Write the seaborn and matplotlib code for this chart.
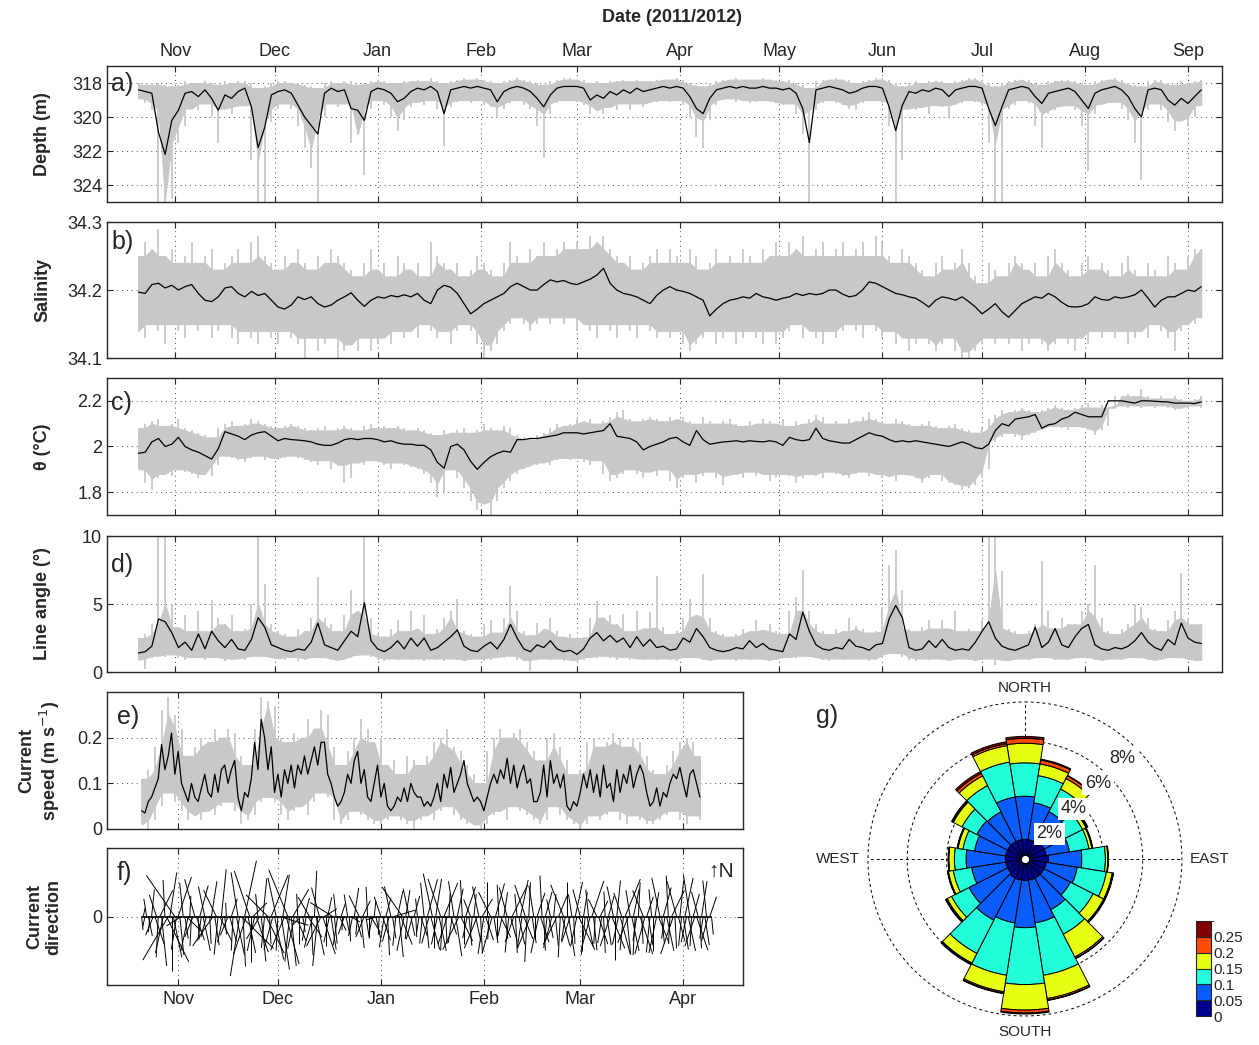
"""Mooring time series (depth, salinity, temperature, line angle, currents) with current rose."""

import numpy as np
import pandas as pd
import matplotlib
matplotlib.use('Agg')
import matplotlib.pyplot as plt
import matplotlib.dates as mdates
from matplotlib.colors import ListedColormap, BoundaryNorm
from matplotlib.cm import ScalarMappable
from matplotlib.collections import LineCollection
import seaborn as sns

START = pd.Timestamp('2011-10-21')

# ---- a) depth, 2-day samples ----
depth_mean = [
    318.4, 318.5, 318.6, 320.9, 322.2, 320.2, 319.6, 318.6, 318.5, 318.8,
    318.4, 318.9, 319.6, 318.7, 318.9, 318.5, 318.3, 319.4, 321.8, 320.6,
    318.7, 318.5, 318.4, 318.6, 319.3, 320.0, 320.5, 321.0, 318.6, 318.3,
    318.5, 318.4, 319.5, 319.6, 320.2, 318.5, 318.3, 318.4, 318.6, 319.1,
    318.9, 318.5, 318.3, 318.4, 318.2, 318.5, 319.8, 318.4, 318.3, 318.2,
    318.3, 318.2, 318.3, 318.4, 319.1, 318.5, 318.3, 318.2, 318.3, 318.5,
    318.9, 319.4, 318.7, 318.3, 318.2, 318.2, 318.2, 318.3, 319.0, 318.7,
    318.9, 318.5, 318.7, 318.4, 318.6, 318.3, 318.5, 318.4, 318.3, 318.2,
    318.3, 318.2, 318.3, 318.8, 319.5, 319.8, 318.9, 318.4, 318.3, 318.2,
    318.3, 318.2, 318.3, 318.3, 318.2, 318.3, 318.3, 318.4, 318.3, 318.6,
    319.5, 321.5, 318.4, 318.3, 318.2, 318.3, 318.4, 318.6, 318.5, 318.3,
    318.2, 318.2, 318.3, 319.4, 320.8, 319.3, 318.5, 318.6, 318.4, 318.5,
    318.3, 318.4, 318.8, 318.4, 318.3, 318.2, 318.2, 318.3, 319.5, 320.5,
    319.4, 318.4, 318.3, 318.2, 318.3, 318.8, 319.2, 318.6, 318.5, 318.4,
    318.3, 318.5, 319.0, 319.5, 318.6, 318.4, 318.3, 318.2, 318.4, 318.8,
    319.5, 320.0, 318.4, 318.3, 318.4, 319.0, 319.3, 318.9, 319.2, 318.8,
    318.4]
depth_shallow = [
    318.0, 318.1, 318.0, 318.0, 318.1, 318.2, 318.1, 317.9, 318.0, 318.0,
    317.9, 318.0, 318.1, 317.9, 318.0, 317.9, 317.9, 318.0, 318.3, 318.2,
    318.0, 317.9, 317.9, 318.0, 318.0, 318.1, 318.2, 318.3, 318.0, 317.9,
    318.0, 317.9, 317.9, 318.1, 318.0, 317.9, 317.8, 317.9, 318.0, 318.0,
    317.9, 317.9, 317.8, 317.9, 317.7, 317.9, 318.0, 317.9, 317.8, 317.7,
    317.8, 317.7, 317.8, 317.9, 318.0, 317.9, 317.8, 317.7, 317.8, 317.9,
    318.0, 318.1, 317.9, 317.8, 317.7, 317.7, 317.8, 317.8, 318.0, 317.9,
    318.0, 317.9, 317.9, 317.8, 317.9, 317.8, 317.9, 317.9, 317.8, 317.8,
    317.8, 317.7, 317.8, 318.0, 318.1, 318.2, 318.0, 317.9, 317.8, 317.8,
    317.7, 317.8, 317.8, 317.8, 317.7, 317.8, 317.8, 317.9, 317.8, 318.0,
    318.1, 318.3, 317.9, 317.8, 317.8, 317.7, 317.8, 317.8, 318.0, 317.9,
    317.8, 317.7, 317.7, 317.8, 318.0, 318.2, 318.0, 317.9, 318.0, 317.9,
    317.9, 317.9, 318.0, 317.9, 317.8, 317.7, 317.7, 317.8, 318.0, 318.2,
    318.0, 317.9, 317.8, 317.8, 317.8, 318.0, 318.1, 317.9, 317.9, 317.8,
    317.8, 317.9, 318.0, 318.1, 317.9, 317.8, 317.8, 317.7, 317.8, 318.0,
    318.1, 318.2, 317.9, 317.8, 317.8, 318.0, 318.1, 317.9, 318.0, 317.9,
    317.8]
depth_deep = [
    318.9, 319.2, 319.6, 325.0, 325.0, 324.8, 321.5, 320.5, 319.5, 319.6,
    319.2, 320.0, 321.5, 319.5, 319.8, 319.4, 319.3, 322.5, 325.0, 325.0,
    320.3, 319.5, 319.2, 319.5, 320.5, 321.8, 323.0, 325.0, 320.0, 319.2,
    319.4, 319.2, 321.5, 321.0, 323.4, 319.5, 319.0, 319.3, 320.0, 320.8,
    320.2, 319.4, 319.1, 319.3, 319.0, 319.5, 321.7, 319.4, 319.1, 319.0,
    319.2, 319.0, 319.3, 319.4, 320.0, 319.5, 319.2, 319.0, 319.3, 319.5,
    320.5, 322.4, 319.8, 319.2, 319.0, 319.0, 319.1, 319.3, 319.8, 319.6,
    319.8, 319.4, 319.6, 319.2, 319.6, 319.2, 319.4, 319.2, 319.1, 319.0,
    319.1, 319.0, 319.3, 320.0, 321.2, 321.8, 320.2, 319.3, 319.0, 318.9,
    319.1, 319.0, 319.2, 319.1, 319.0, 319.1, 319.2, 319.3, 319.2, 319.8,
    321.0, 325.0, 319.6, 319.2, 319.0, 319.2, 319.3, 319.5, 319.6, 319.2,
    319.0, 319.0, 319.2, 320.5, 325.0, 322.5, 319.5, 319.6, 319.4, 319.8,
    319.3, 319.4, 320.0, 319.3, 319.2, 319.0, 319.1, 319.3, 321.5, 325.0,
    325.0, 319.5, 319.3, 319.0, 319.2, 320.5, 321.8, 319.8, 319.6, 319.4,
    319.3, 319.6, 320.5, 323.2, 319.8, 319.3, 319.2, 319.1, 319.5, 320.2,
    321.5, 323.7, 319.6, 319.2, 319.6, 320.3, 320.8, 320.2, 320.5, 320.0,
    319.3]

# ---- b) salinity, 2-day samples ----
sal_mean = [
    34.197, 34.195, 34.208, 34.210, 34.203, 34.207, 34.200, 34.205, 34.208, 34.195,
    34.185, 34.183, 34.190, 34.203, 34.205, 34.195, 34.190, 34.198, 34.192, 34.195,
    34.185, 34.175, 34.172, 34.178, 34.190, 34.186, 34.190, 34.180, 34.175, 34.178,
    34.185, 34.190, 34.196, 34.185, 34.176, 34.185, 34.190, 34.188, 34.192, 34.190,
    34.193, 34.190, 34.195, 34.185, 34.180, 34.200, 34.207, 34.204, 34.195, 34.180,
    34.165, 34.172, 34.180, 34.185, 34.190, 34.195, 34.205, 34.210, 34.205, 34.200,
    34.200, 34.208, 34.215, 34.212, 34.214, 34.210, 34.208, 34.212, 34.216, 34.222,
    34.232, 34.210, 34.200, 34.195, 34.193, 34.190, 34.185, 34.180, 34.192, 34.200,
    34.205, 34.200, 34.198, 34.195, 34.190, 34.185, 34.162, 34.172, 34.180, 34.185,
    34.187, 34.190, 34.188, 34.195, 34.190, 34.188, 34.185, 34.188, 34.190, 34.195,
    34.192, 34.195, 34.193, 34.195, 34.200, 34.200, 34.194, 34.190, 34.192, 34.200,
    34.212, 34.210, 34.205, 34.200, 34.195, 34.193, 34.190, 34.188, 34.182, 34.175,
    34.185, 34.190, 34.188, 34.185, 34.190, 34.183, 34.175, 34.165, 34.172, 34.180,
    34.168, 34.160, 34.170, 34.180, 34.185, 34.190, 34.188, 34.195, 34.190, 34.182,
    34.176, 34.175, 34.176, 34.180, 34.190, 34.186, 34.185, 34.190, 34.188, 34.190,
    34.193, 34.200, 34.188, 34.175, 34.185, 34.190, 34.190, 34.195, 34.200, 34.198,
    34.205]
sal_high = [
    34.25, 34.27, 34.26, 34.29, 34.25, 34.26, 34.24, 34.25, 34.27, 34.24,
    34.25, 34.26, 34.23, 34.24, 34.25, 34.26, 34.24, 34.27, 34.28, 34.25,
    34.24, 34.23, 34.25, 34.24, 34.26, 34.24, 34.23, 34.25, 34.24, 34.26,
    34.25, 34.24, 34.23, 34.22, 34.24, 34.26, 34.23, 34.24, 34.22, 34.25,
    34.24, 34.23, 34.24, 34.22, 34.27, 34.25, 34.24, 34.23, 34.24, 34.22,
    34.23, 34.25, 34.24, 34.23, 34.22, 34.24, 34.27, 34.25, 34.24, 34.26,
    34.25, 34.27, 34.25, 34.26, 34.27, 34.26, 34.27, 34.26, 34.28, 34.27,
    34.28, 34.26, 34.25, 34.24, 34.25, 34.23, 34.24, 34.25, 34.26, 34.24,
    34.26, 34.25, 34.24, 34.26, 34.25, 34.23, 34.24, 34.26, 34.24, 34.25,
    34.24, 34.26, 34.25, 34.24, 34.26, 34.25, 34.27, 34.25, 34.27, 34.26,
    34.28, 34.25, 34.26, 34.27, 34.25, 34.26, 34.27, 34.25, 34.26, 34.27,
    34.25, 34.28, 34.27, 34.25, 34.24, 34.26, 34.25, 34.24, 34.23, 34.22,
    34.24, 34.25, 34.23, 34.24, 34.26, 34.24, 34.22, 34.21, 34.24, 34.23,
    34.22, 34.24, 34.25, 34.24, 34.23, 34.24, 34.22, 34.25, 34.26, 34.24,
    34.23, 34.22, 34.24, 34.25, 34.23, 34.24, 34.23, 34.22, 34.24, 34.25,
    34.23, 34.22, 34.24, 34.23, 34.22, 34.25, 34.24, 34.23, 34.25, 34.26,
    34.26]
sal_low = [
    34.14, 34.13, 34.15, 34.14, 34.12, 34.15, 34.14, 34.13, 34.15, 34.14,
    34.15, 34.13, 34.14, 34.15, 34.13, 34.12, 34.14, 34.13, 34.12, 34.14,
    34.13, 34.12, 34.14, 34.13, 34.12, 34.10, 34.13, 34.11, 34.12, 34.13,
    34.10, 34.11, 34.12, 34.11, 34.13, 34.11, 34.12, 34.13, 34.12, 34.14,
    34.13, 34.14, 34.13, 34.15, 34.14, 34.13, 34.14, 34.12, 34.14, 34.15,
    34.14, 34.12, 34.10, 34.11, 34.12, 34.14, 34.15, 34.16, 34.15, 34.14,
    34.15, 34.16, 34.15, 34.16, 34.15, 34.16, 34.14, 34.15, 34.14, 34.13,
    34.15, 34.14, 34.13, 34.15, 34.14, 34.13, 34.15, 34.14, 34.13, 34.14,
    34.13, 34.14, 34.12, 34.11, 34.12, 34.13, 34.14, 34.12, 34.13, 34.14,
    34.12, 34.13, 34.14, 34.13, 34.12, 34.14, 34.12, 34.13, 34.14, 34.15,
    34.13, 34.14, 34.13, 34.12, 34.14, 34.13, 34.14, 34.15, 34.14, 34.13,
    34.15, 34.14, 34.13, 34.14, 34.12, 34.13, 34.11, 34.12, 34.13, 34.12,
    34.11, 34.12, 34.13, 34.11, 34.10, 34.10, 34.11, 34.12, 34.13, 34.12,
    34.13, 34.12, 34.13, 34.11, 34.12, 34.13, 34.12, 34.11, 34.12, 34.13,
    34.12, 34.11, 34.13, 34.12, 34.14, 34.13, 34.14, 34.13, 34.14, 34.12,
    34.13, 34.14, 34.13, 34.15, 34.14, 34.13, 34.11, 34.14, 34.15, 34.15,
    34.16]

# ---- c) potential temperature, 2-day samples ----
temp_mean = [
    1.970, 1.975, 2.020, 2.035, 2.000, 2.010, 2.040, 2.000, 1.985, 1.975,
    1.960, 1.945, 1.990, 2.065, 2.055, 2.045, 2.030, 2.050, 2.060, 2.065,
    2.045, 2.025, 2.035, 2.030, 2.028, 2.025, 2.020, 2.010, 2.005, 2.005,
    2.015, 2.030, 2.035, 2.030, 2.035, 2.035, 2.030, 2.020, 2.025, 2.015,
    2.010, 2.010, 2.005, 2.005, 1.985, 1.930, 1.905, 2.000, 2.010, 1.985,
    1.935, 1.900, 1.930, 1.955, 1.970, 1.980, 1.975, 2.030, 2.030, 2.035,
    2.035, 2.040, 2.045, 2.050, 2.060, 2.060, 2.060, 2.055, 2.060, 2.065,
    2.070, 2.100, 2.045, 2.040, 2.035, 2.020, 1.985, 2.000, 2.010, 2.020,
    2.035, 2.040, 2.020, 2.005, 2.070, 2.030, 2.010, 2.015, 2.020, 2.022,
    2.025, 2.020, 2.025, 2.022, 2.020, 2.025, 2.020, 2.005, 2.040, 2.030,
    2.025, 2.030, 2.080, 2.035, 2.025, 2.020, 2.015, 2.015, 2.030, 2.045,
    2.060, 2.050, 2.045, 2.030, 2.020, 2.025, 2.020, 2.025, 2.020, 2.015,
    2.010, 2.005, 2.000, 2.010, 2.020, 2.010, 1.995, 1.990, 2.010, 2.070,
    2.100, 2.090, 2.120, 2.125, 2.130, 2.140, 2.080, 2.095, 2.100, 2.120,
    2.130, 2.150, 2.140, 2.130, 2.130, 2.130, 2.200, 2.200, 2.200, 2.195,
    2.190, 2.200, 2.200, 2.198, 2.196, 2.195, 2.190, 2.190, 2.190, 2.188,
    2.195]
temp_high = [
    2.08, 2.10, 2.11, 2.12, 2.09, 2.10, 2.12, 2.08, 2.07, 2.06,
    2.05, 2.04, 2.08, 2.10, 2.11, 2.09, 2.10, 2.12, 2.11, 2.10,
    2.09, 2.08, 2.09, 2.10, 2.09, 2.08, 2.07, 2.08, 2.09, 2.07,
    2.08, 2.09, 2.08, 2.07, 2.09, 2.10, 2.08, 2.09, 2.08, 2.09,
    2.08, 2.07, 2.08, 2.07, 2.06, 2.05, 2.07, 2.06, 2.07, 2.08,
    2.06, 2.07, 2.10, 2.08, 2.07, 2.09, 2.08, 2.05, 2.04, 2.03,
    2.05, 2.06, 2.08, 2.10, 2.09, 2.10, 2.12, 2.11, 2.12, 2.10,
    2.11, 2.13, 2.15, 2.16, 2.12, 2.11, 2.12, 2.13, 2.12, 2.11,
    2.13, 2.12, 2.13, 2.11, 2.10, 2.13, 2.11, 2.10, 2.11, 2.12,
    2.10, 2.09, 2.11, 2.10, 2.12, 2.11, 2.10, 2.12, 2.09, 2.11,
    2.10, 2.12, 2.14, 2.13, 2.10, 2.11, 2.10, 2.12, 2.11, 2.13,
    2.15, 2.12, 2.11, 2.10, 2.12, 2.11, 2.10, 2.09, 2.10, 2.11,
    2.09, 2.08, 2.09, 2.10, 2.08, 2.07, 2.06, 2.08, 2.12, 2.14,
    2.16, 2.15, 2.16, 2.17, 2.16, 2.15, 2.16, 2.17, 2.18, 2.17,
    2.16, 2.17, 2.18, 2.19, 2.17, 2.18, 2.17, 2.22, 2.22, 2.23,
    2.22, 2.25, 2.22, 2.21, 2.22, 2.21, 2.22, 2.21, 2.20, 2.21,
    2.22]
temp_low = [
    1.90, 1.84, 1.81, 1.86, 1.88, 1.87, 1.90, 1.89, 1.88, 1.86,
    1.88, 1.87, 1.92, 1.96, 1.95, 1.94, 1.93, 1.95, 1.96, 1.94,
    1.95, 1.94, 1.95, 1.96, 1.95, 1.94, 1.93, 1.92, 1.94, 1.90,
    1.92, 1.84, 1.86, 1.93, 1.92, 1.94, 1.93, 1.92, 1.90, 1.93,
    1.92, 1.91, 1.90, 1.88, 1.84, 1.78, 1.80, 1.90, 1.86, 1.82,
    1.76, 1.72, 1.75, 1.70, 1.76, 1.82, 1.85, 1.88, 1.90, 1.91,
    1.92, 1.93, 1.92, 1.94, 1.95, 1.94, 1.95, 1.93, 1.92, 1.94,
    1.88, 1.85, 1.86, 1.88, 1.90, 1.88, 1.86, 1.89, 1.87, 1.90,
    1.85, 1.82, 1.86, 1.88, 1.84, 1.87, 1.89, 1.86, 1.83, 1.87,
    1.88, 1.86, 1.89, 1.87, 1.88, 1.85, 1.86, 1.88, 1.87, 1.84,
    1.86, 1.88, 1.87, 1.86, 1.89, 1.88, 1.87, 1.86, 1.88, 1.89,
    1.87, 1.88, 1.86, 1.87, 1.85, 1.88, 1.87, 1.86, 1.84, 1.86,
    1.88, 1.85, 1.84, 1.83, 1.81, 1.82, 1.83, 1.86, 1.90, 2.02,
    2.04, 2.06, 2.04, 2.03, 2.05, 2.06, 2.07, 2.08, 2.09, 2.08,
    2.07, 2.09, 2.08, 2.07, 2.05, 2.07, 2.09, 2.17, 2.18, 2.17,
    2.18, 2.17, 2.18, 2.17, 2.18, 2.17, 2.16, 2.17, 2.17, 2.18,
    2.17]

# ---- d) line angle, 2-day samples ----
angle_mean = [
    1.4, 1.5, 1.9, 3.9, 3.7, 2.9, 1.8, 2.2, 1.6, 2.8,
    1.7, 3.0, 2.3, 1.8, 2.4, 1.7, 1.6, 2.4, 4.0, 3.3,
    2.0, 1.8, 1.6, 1.5, 1.7, 1.6, 2.2, 3.6, 2.0, 1.8,
    1.6, 2.3, 3.0, 2.6, 5.1, 2.3, 1.7, 1.5, 1.8, 2.3,
    1.7, 2.5, 1.9, 2.5, 1.6, 1.8, 2.2, 2.6, 3.1, 1.9,
    1.6, 1.5, 1.9, 2.2, 1.7, 2.4, 3.5, 2.5, 1.7, 1.5,
    2.0, 1.8, 2.3, 1.7, 1.5, 1.6, 1.3, 1.7, 2.5, 2.9,
    2.3, 2.7, 2.2, 2.5, 1.8, 2.6, 1.9, 2.4, 1.8, 1.9,
    1.6, 1.7, 2.5, 2.2, 3.2, 2.6, 1.8, 1.6, 1.5, 1.6,
    1.8, 1.7, 2.3, 1.8, 2.1, 1.7, 1.6, 1.5, 2.8, 2.4,
    4.4, 3.0, 2.0, 1.7, 1.6, 1.8, 1.7, 2.4, 1.9, 1.8,
    1.6, 2.0, 2.1, 3.9, 4.9, 4.0, 1.8, 1.6, 1.7, 2.3,
    1.8, 2.4, 1.8, 1.6, 1.7, 1.6, 2.2, 3.0, 3.7, 2.5,
    1.9, 1.7, 1.6, 1.8, 2.0, 3.3, 1.8, 2.2, 3.2, 2.0,
    1.8, 2.6, 3.2, 3.5, 2.0, 1.7, 1.6, 1.8, 1.7, 1.9,
    2.3, 2.9, 2.2, 1.8, 1.6, 2.4, 2.0, 3.6, 2.5, 2.2,
    2.1]
angle_high = [
    2.5, 2.8, 3.5, 10.0, 10.0, 5.0, 3.3, 4.2, 3.0, 4.5,
    3.0, 5.3, 4.0, 3.5, 4.2, 3.0, 3.2, 5.0, 10.0, 6.5,
    3.5, 3.0, 2.8, 2.6, 3.2, 3.0, 4.0, 7.0, 4.0, 3.5,
    3.0, 4.2, 6.0, 4.5, 10.0, 4.0, 2.8, 2.6, 3.2, 3.8,
    3.0, 4.5, 3.2, 4.2, 2.8, 3.2, 4.0, 4.5, 5.4, 3.0,
    2.8, 2.6, 3.5, 3.8, 2.9, 4.0, 6.3, 4.5, 3.0, 2.7,
    3.6, 3.2, 4.0, 3.0, 2.6, 2.8, 2.5, 2.6, 4.0, 5.2,
    4.0, 4.2, 3.5, 4.3, 3.0, 4.5, 3.2, 4.4, 7.1, 3.3,
    2.8, 3.0, 4.0, 5.4, 4.2, 7.2, 4.0, 3.0, 2.8, 2.6,
    2.8, 3.2, 3.0, 3.8, 3.1, 3.5, 3.0, 2.8, 4.5, 5.5,
    7.5, 4.5, 3.5, 3.0, 2.8, 3.2, 3.0, 4.0, 3.4, 3.2,
    2.9, 3.0, 4.8, 7.9, 9.0, 6.0, 3.2, 3.0, 3.3, 3.8,
    3.2, 3.8, 3.2, 4.5, 3.0, 3.2, 3.0, 3.8, 10.0, 10.0,
    7.4, 3.2, 3.0, 2.8, 3.0, 3.5, 8.2, 4.5, 3.2, 4.0,
    3.5, 3.5, 4.5, 5.0, 7.9, 4.0, 3.0, 2.8, 3.2, 3.5,
    5.0, 4.8, 4.0, 3.2, 3.0, 3.8, 4.5, 7.3, 4.0, 3.5,
    3.5]
angle_low = [
    0.9, 0.2, 1.0, 1.2, 1.1, 1.3, 1.0, 0.9, 1.1, 1.0,
    0.9, 1.1, 1.0, 0.8, 0.9, 1.0, 0.9, 1.1, 1.2, 1.1,
    1.0, 1.0, 0.9, 1.1, 0.8, 0.9, 1.0, 1.1, 1.0, 0.9,
    0.8, 0.9, 1.0, 1.2, 1.3, 1.1, 0.9, 0.8, 1.0, 0.9,
    1.0, 0.9, 1.0, 0.8, 1.0, 0.9, 0.8, 1.0, 0.9, 0.8,
    0.9, 1.0, 0.8, 0.9, 1.1, 1.0, 1.2, 0.9, 0.8, 0.1,
    0.9, 1.0, 0.9, 1.0, 0.8, 0.9, 0.8, 0.9, 1.1, 1.0,
    1.2, 1.0, 0.9, 1.1, 0.9, 1.0, 0.9, 1.0, 0.9, 1.0,
    0.9, 0.8, 1.0, 1.1, 1.0, 0.9, 0.8, 0.9, 1.0, 0.9,
    0.8, 1.0, 0.9, 1.0, 0.9, 0.8, 0.9, 1.0, 1.1, 1.0,
    1.2, 1.1, 1.0, 0.9, 0.8, 1.0, 0.9, 1.0, 0.9, 1.0,
    0.8, 0.9, 1.0, 1.3, 1.4, 1.1, 0.9, 0.8, 1.0, 0.9,
    1.0, 0.9, 0.8, 0.9, 1.0, 0.9, 0.8, 0.9, 1.0, 0.5,
    0.9, 0.8, 0.9, 1.0, 0.9, 1.0, 1.1, 1.0, 0.9, 1.0,
    0.9, 1.0, 1.1, 1.0, 0.9, 0.8, 0.9, 1.0, 0.9, 1.0,
    1.1, 1.0, 0.9, 0.8, 0.9, 1.0, 1.1, 1.0, 0.9, 0.8,
    0.9]

# ---- e) current speed, daily mean and 2-day envelope ----
speed_mean = [
    0.04, 0.035, 0.06, 0.07, 0.09, 0.11, 0.185, 0.13, 0.16, 0.21,
    0.12, 0.17, 0.10, 0.08, 0.06, 0.10, 0.07, 0.06, 0.09, 0.12,
    0.08, 0.07, 0.12, 0.08, 0.13, 0.14, 0.10, 0.13, 0.15, 0.07,
    0.04, 0.08, 0.07, 0.11, 0.19, 0.13, 0.24, 0.20, 0.13, 0.18,
    0.08, 0.12, 0.07, 0.13, 0.10, 0.14, 0.09, 0.14, 0.12, 0.16,
    0.12, 0.15, 0.18, 0.14, 0.19, 0.19, 0.12, 0.10, 0.07, 0.05,
    0.06, 0.08, 0.12, 0.10, 0.15, 0.17, 0.10, 0.13, 0.07, 0.06,
    0.10, 0.14, 0.07, 0.10, 0.05, 0.04, 0.05, 0.07, 0.06, 0.09,
    0.06, 0.10, 0.08, 0.07, 0.07, 0.05, 0.06, 0.05, 0.07, 0.10,
    0.06, 0.12, 0.09, 0.135, 0.08, 0.10, 0.12, 0.15, 0.10, 0.08,
    0.06, 0.07, 0.06, 0.04, 0.07, 0.10, 0.12, 0.10, 0.13, 0.11,
    0.155, 0.10, 0.14, 0.09, 0.12, 0.14, 0.10, 0.11, 0.06, 0.06,
    0.08, 0.14, 0.07, 0.15, 0.10, 0.12, 0.09, 0.12, 0.05, 0.04,
    0.06, 0.05, 0.08, 0.12, 0.09, 0.13, 0.08, 0.12, 0.07, 0.14,
    0.09, 0.10, 0.06, 0.13, 0.08, 0.12, 0.10, 0.14, 0.09, 0.12,
    0.14, 0.12, 0.08, 0.05, 0.06, 0.09, 0.05, 0.08, 0.07, 0.10,
    0.12, 0.11, 0.135, 0.10, 0.07, 0.12, 0.13, 0.10, 0.07]
speed_high = [
    0.11, 0.13, 0.18, 0.26, 0.29, 0.25, 0.22, 0.16, 0.18, 0.20,
    0.19, 0.22, 0.20, 0.22, 0.21, 0.16, 0.14, 0.22, 0.29, 0.28,
    0.27, 0.20, 0.19, 0.21, 0.20, 0.24, 0.22, 0.26, 0.25, 0.18,
    0.14, 0.17, 0.20, 0.24, 0.22, 0.19, 0.20, 0.14, 0.15, 0.12,
    0.16, 0.15, 0.14, 0.16, 0.19, 0.20, 0.22, 0.18, 0.17, 0.14,
    0.12, 0.10, 0.17, 0.20, 0.22, 0.20, 0.21, 0.22, 0.19, 0.17,
    0.15, 0.20, 0.21, 0.18, 0.15, 0.12, 0.13, 0.19, 0.20, 0.18,
    0.19, 0.21, 0.20, 0.18, 0.20, 0.19, 0.16, 0.13, 0.12, 0.14,
    0.17, 0.19, 0.20, 0.19, 0.16]
speed_low = [
    0.01, 0.00, 0.02, 0.05, 0.08, 0.06, 0.04, 0.02, 0.03, 0.02,
    0.04, 0.03, 0.05, 0.06, 0.04, 0.01, 0.02, 0.03, 0.06, 0.07,
    0.06, 0.03, 0.02, 0.04, 0.05, 0.03, 0.06, 0.08, 0.07, 0.02,
    0.01, 0.02, 0.04, 0.03, 0.02, 0.01, 0.01, 0.02, 0.03, 0.02,
    0.01, 0.00, 0.02, 0.03, 0.02, 0.04, 0.05, 0.03, 0.02, 0.01,
    0.01, 0.00, 0.01, 0.03, 0.04, 0.02, 0.05, 0.04, 0.03, 0.02,
    0.01, 0.02, 0.05, 0.03, 0.02, 0.01, 0.00, 0.01, 0.03, 0.02,
    0.03, 0.04, 0.02, 0.01, 0.03, 0.02, 0.01, 0.01, 0.02, 0.03,
    0.04, 0.02, 0.01, 0.03, 0.02]

# ---- f) current sticks every 12 h: speed (m/s), direction (deg toward, from N) ----
stick_speed = [
    0.06, 0.04, 0.05, 0.08, 0.09, 0.07, 0.12, 0.10, 0.14, 0.11,
    0.18, 0.15, 0.22, 0.17, 0.16, 0.26, 0.27, 0.20, 0.24, 0.19,
    0.28, 0.15, 0.20, 0.17, 0.12, 0.15,
    0.10, 0.14, 0.16, 0.09, 0.13, 0.11, 0.18, 0.12, 0.10, 0.15,
    0.11, 0.16, 0.14, 0.10, 0.18, 0.12, 0.16, 0.20, 0.13, 0.15,
    0.17, 0.14, 0.21, 0.12, 0.08, 0.06, 0.10, 0.12, 0.09, 0.15,
    0.24, 0.18, 0.20, 0.27, 0.28, 0.22, 0.26, 0.19, 0.17, 0.23,
    0.20, 0.12, 0.16, 0.18, 0.10, 0.14,
    0.20, 0.17, 0.14, 0.21, 0.19, 0.12, 0.22, 0.16, 0.20, 0.18,
    0.15, 0.22, 0.24, 0.19, 0.18, 0.23, 0.25, 0.20, 0.22, 0.17,
    0.15, 0.13, 0.10, 0.12, 0.08, 0.07, 0.09, 0.11, 0.14, 0.12,
    0.17, 0.15, 0.20, 0.18, 0.22, 0.14, 0.17, 0.19, 0.10, 0.13,
    0.09, 0.12, 0.15, 0.18, 0.12, 0.10, 0.13, 0.08, 0.07, 0.06,
    0.09, 0.08, 0.10, 0.11, 0.07, 0.09, 0.13, 0.10, 0.08, 0.12,
    0.14, 0.09,
    0.11, 0.10, 0.13, 0.09, 0.10, 0.08, 0.07, 0.10, 0.09, 0.08,
    0.10, 0.12, 0.14, 0.09, 0.17, 0.12, 0.14, 0.10, 0.16, 0.13,
    0.12, 0.18, 0.15, 0.20, 0.16, 0.12, 0.10, 0.13, 0.09, 0.11,
    0.10, 0.09, 0.08, 0.07, 0.10, 0.12, 0.15, 0.14, 0.18, 0.13,
    0.16, 0.20, 0.14, 0.17, 0.13, 0.16, 0.19, 0.15, 0.18, 0.12,
    0.14, 0.10, 0.09, 0.12, 0.16, 0.18, 0.13, 0.19, 0.14, 0.16,
    0.12, 0.15,
    0.10, 0.13, 0.09, 0.08, 0.10, 0.12, 0.17, 0.14, 0.16, 0.11,
    0.17, 0.12, 0.15, 0.10, 0.14, 0.18, 0.12, 0.16, 0.10, 0.14,
    0.12, 0.09, 0.11, 0.10, 0.14, 0.16, 0.12, 0.18, 0.13, 0.16,
    0.10, 0.13, 0.17, 0.14, 0.12, 0.16, 0.20, 0.15, 0.17, 0.12,
    0.14, 0.10, 0.12, 0.17, 0.13, 0.18, 0.15, 0.12, 0.14, 0.10,
    0.08, 0.12, 0.10, 0.13, 0.16, 0.12, 0.18, 0.14, 0.17, 0.11,
    0.15, 0.18, 0.13, 0.10, 0.12, 0.16, 0.14, 0.19, 0.13, 0.15,
    0.11, 0.17, 0.14, 0.12, 0.16, 0.18, 0.15, 0.12, 0.10, 0.14,
    0.09, 0.12, 0.16, 0.11, 0.13, 0.10, 0.15, 0.17, 0.14, 0.19,
    0.16, 0.13, 0.18, 0.12, 0.15, 0.20, 0.17, 0.14, 0.12, 0.16,
    0.13, 0.17, 0.11, 0.15, 0.19, 0.12, 0.14, 0.18, 0.10, 0.13,
    0.16, 0.12, 0.15, 0.11, 0.17, 0.14, 0.18, 0.12,
    0.14, 0.10, 0.16, 0.18, 0.12, 0.15, 0.19, 0.14, 0.17, 0.12,
    0.16, 0.13, 0.15, 0.18, 0.12, 0.16, 0.19, 0.13, 0.11, 0.15,
    0.17, 0.12, 0.14, 0.16, 0.10, 0.13, 0.16, 0.12, 0.10, 0.08]
current_dir = [
    170, 20, 200, 345, 160, 190, 10, 215, 150, 330, 185, 40, 170, 200, 355,
    140, 225, 15, 180, 160, 310, 195, 30, 170, 250, 350, 165, 120, 200, 5,
    185, 215, 335, 150, 175, 25, 195, 160, 340, 205, 90, 175, 15, 230, 165,
    320, 190, 140, 10, 200, 170, 355, 215, 155, 30, 185, 270, 160, 345, 195,
    120, 175, 20, 210, 160, 330, 180, 60, 200, 150, 350, 225, 170, 10, 190,
    140, 300, 175, 35, 205, 160, 340, 185, 100, 165, 15, 215, 155, 325, 190,
    170, 45, 200, 145, 355, 180, 240, 165, 25, 195, 130, 315, 175, 205, 5,
    160, 190, 335, 220, 150, 70, 180, 20, 200, 165, 290, 170, 350, 195, 140,
    30, 185, 210, 160, 345, 175, 110, 200, 15, 155, 190, 320, 170, 40, 215,
    165, 355, 180, 135, 200, 10, 160, 260, 185, 330, 150, 195, 25, 175, 205,
    340, 165, 80, 190, 20, 170, 145, 310, 200, 15, 190, 340, 160, 205, 25,
    175, 350, 195, 150,
    190, 350, 170, 25, 205, 155, 340, 180, 15, 200, 160, 330, 185, 35, 175,
    210, 5, 150, 195, 345, 165, 20, 220, 140, 355, 180, 30, 200, 170, 325,
    190, 10, 160, 215, 340, 175, 45, 195, 150, 0, 185, 320, 205, 165, 25,
    180, 355, 140, 200, 15, 170, 335, 190, 155, 40, 210, 175, 350, 160, 20,
    195, 145, 330, 185, 5, 215, 165, 345, 180, 30, 200, 150, 355, 175, 25,
    190, 160, 340, 205, 10, 170, 220, 35, 185, 155, 325, 195, 0, 165, 210,
    345, 175, 20, 200, 140, 335, 180, 15, 190, 160, 350, 205, 30, 170, 185,
    320, 150, 40, 195, 175, 355, 165, 25, 210, 145, 340, 180, 10, 200, 155,
    330, 190, 35, 170, 215, 345, 160, 20, 185, 195, 5, 150, 175, 325, 205,
    30, 165, 190, 350, 180, 15, 200, 145, 340, 170, 25, 195, 160, 355, 185,
    40, 210, 175, 335, 155, 10, 190, 165, 20, 200,
    160, 345, 185, 25, 210, 150, 335, 175, 15, 195, 165, 350, 205, 30, 170,
    190]

# ---- g) current rose: % of time per 18 deg sector and speed class ----
rose_dirs = [0, 18, 36, 54, 72, 90, 108, 126, 144, 162,
             180, 198, 216, 234, 252, 270, 288, 306, 324, 342]
rose_0_005 = [1.0, 1.0, 1.0, 1.1, 1.1, 1.2, 1.1, 1.1, 1.1, 1.1,
              1.1, 1.1, 1.1, 1.0, 1.0, 1.0, 1.0, 1.0, 1.0, 1.0]
rose_005_01 = [2.2, 1.9, 1.7, 1.2, 1.2, 1.7, 1.6, 1.5, 1.8, 2.2,
               2.4, 2.2, 2.4, 2.2, 1.75, 2.0, 1.6, 1.75, 1.7, 2.2]
rose_01_015 = [1.7, 1.4, 1.3, 1.0, 1.0, 1.2, 1.5, 1.3, 1.4, 2.7,
               2.9, 2.7, 1.9, 1.0, 0.95, 0.6, 0.6, 0.85, 1.5, 1.8]
rose_015_02 = [1.0, 0.6, 0.6, 0.2, 0.15, 0.12, 0.3, 0.6, 1.3, 1.2,
               1.3, 0.85, 0.55, 0.25, 0.25, 0.28, 0.25, 0.5, 0.55, 0.85]
rose_02_025 = [0.25, 0.2, 0.15, 0.05, 0.03, 0.02, 0.05, 0.05, 0.08, 0.08,
               0.15, 0.07, 0.05, 0.05, 0.03, 0.02, 0.03, 0.05, 0.15, 0.1]
rose_025_up = [0.1, 0.05, 0.03, 0.05, 0.02, 0.01, 0.02, 0.03, 0.02, 0.02,
               0.05, 0.03, 0.05, 0.05, 0.02, 0.02, 0.02, 0.05, 0.1, 0.1]
speed_bounds = [0, 0.05, 0.1, 0.15, 0.2, 0.25, 0.3]
rose_colors = ['#00008f', '#0a5cff', '#22ffd9', '#e6ff12', '#ff4a00', '#800000']

GRAY = '#c8c8c8'


def dates(values, freq):
    return pd.date_range(START, periods=len(values), freq=freq)


def style_time_axis(ax, xlim, labels_top=False, labels_bottom=False):
    ax.set_xlim(pd.Timestamp(xlim[0]), pd.Timestamp(xlim[1]))
    ax.xaxis.set_major_locator(mdates.MonthLocator())
    ax.xaxis.set_major_formatter(mdates.DateFormatter('%b'))
    ax.tick_params(axis='x', top=True, bottom=True, labeltop=labels_top,
                   labelbottom=labels_bottom, direction='in', length=4,
                   labelsize=13, pad=4)
    ax.tick_params(axis='y', left=True, right=True, direction='in', length=4,
                   labelsize=13)
    ax.grid(True, color='0.3', linestyle=(0, (1, 4)), linewidth=0.7)
    ax.set_axisbelow(True)
    ax.set_xlabel('')
    for s in ax.spines.values():
        s.set_linewidth(1.0)
        s.set_visible(True)


def gray_envelope(ax, t, low, high):
    # solid core between neighbouring extremes, full range as thin raw-like spikes
    lo = np.asarray(low, dtype=float)
    hi = np.asarray(high, dtype=float)
    lo_p = np.pad(lo, 1, mode='edge')
    hi_p = np.pad(hi, 1, mode='edge')
    core_lo = np.maximum.reduce([lo_p[:-2], lo_p[1:-1], lo_p[2:]])
    core_hi = np.minimum.reduce([hi_p[:-2], hi_p[1:-1], hi_p[2:]])
    ax.fill_between(t, core_lo, core_hi, color=GRAY, edgecolor=GRAY,
                    linewidth=0.8)
    ax.vlines(t, lo, hi, color=GRAY, linewidth=1.3)


def series_panel(ax, mean, low, high):
    n = min(len(low), len(high))
    gray_envelope(ax, dates(low[:n], '2D'), low[:n], high[:n])
    sns.lineplot(x=dates(mean, '2D'), y=mean, ax=ax, color='k', linewidth=0.9)


sns.set_style('ticks')
plt.rcParams['font.family'] = ['Liberation Sans', 'DejaVu Sans']

fig = plt.figure(figsize=(12.59, 10.45), dpi=100)

TOP_X = ('2011-10-11 12:00', '2012-09-11 06:00')
LOW_X = ('2011-10-10 14:00', '2012-04-19 00:00')
ylab = dict(fontsize=13, fontweight='bold')
plab = dict(fontsize=18, va='center', ha='left')

# a) depth
ax_a = fig.add_axes([0.085, 0.8067, 0.8856, 0.1301])
series_panel(ax_a, depth_mean, depth_shallow, depth_deep)
style_time_axis(ax_a, TOP_X, labels_top=True)
ax_a.set_ylim(325, 317)
ax_a.set_yticks([318, 320, 322, 324])
ax_a.set_ylabel('Depth (m)', **ylab)
ax_a.yaxis.set_label_coords(-0.05, 0.5)
ax_a.text(0.004, 0.87, 'a)', transform=ax_a.transAxes, **plab)

# b) salinity
ax_b = fig.add_axes([0.085, 0.6574, 0.8856, 0.1301])
series_panel(ax_b, sal_mean, sal_low, sal_high)
style_time_axis(ax_b, TOP_X)
ax_b.set_ylim(34.1, 34.3)
ax_b.set_yticks([34.1, 34.2, 34.3])
ax_b.set_yticklabels(['34.1', '34.2', '34.3'])
ax_b.set_ylabel('Salinity', **ylab)
ax_b.yaxis.set_label_coords(-0.05, 0.5)
ax_b.text(0.004, 0.85, 'b)', transform=ax_b.transAxes, **plab)

# c) temperature
ax_c = fig.add_axes([0.085, 0.5072, 0.8856, 0.1311])
series_panel(ax_c, temp_mean, temp_low, temp_high)
style_time_axis(ax_c, TOP_X)
ax_c.set_ylim(1.7, 2.3)
ax_c.set_yticks([1.8, 2.0, 2.2])
ax_c.set_yticklabels(['1.8', '2', '2.2'])
ax_c.set_ylabel('θ (°C)', **ylab)
ax_c.yaxis.set_label_coords(-0.05, 0.5)
ax_c.text(0.004, 0.82, 'c)', transform=ax_c.transAxes, **plab)

# d) line angle
ax_d = fig.add_axes([0.085, 0.3569, 0.8856, 0.1301])
series_panel(ax_d, angle_mean, angle_low, angle_high)
style_time_axis(ax_d, TOP_X)
ax_d.set_ylim(0, 10)
ax_d.set_yticks([0, 5, 10])
ax_d.set_ylabel('Line angle (°)', **ylab)
ax_d.yaxis.set_label_coords(-0.05, 0.5)
ax_d.text(0.004, 0.79, 'd)', transform=ax_d.transAxes, **plab)

# e) current speed
ax_e = fig.add_axes([0.085, 0.2067, 0.5052, 0.1311])
n = min(len(speed_low), len(speed_high))
gray_envelope(ax_e, dates(speed_low[:n], '2D'), speed_low[:n], speed_high[:n])
sns.lineplot(x=dates(speed_mean, '1D'), y=speed_mean, ax=ax_e, color='k',
             linewidth=0.9)
style_time_axis(ax_e, LOW_X)
ax_e.set_ylim(0, 0.3)
ax_e.set_yticks([0, 0.1, 0.2])
ax_e.set_yticklabels(['0', '0.1', '0.2'])
ax_e.set_ylabel('Current\nspeed (m s$^{-1}$)', **ylab)
ax_e.yaxis.set_label_coords(-0.07, 0.5)
ax_e.text(0.015, 0.82, 'e)', transform=ax_e.transAxes, **plab)

# f) current direction sticks
ax_f = fig.add_axes([0.085, 0.0574, 0.5052, 0.1311])
m = min(len(stick_speed), len(current_dir))
t_stick = mdates.date2num(dates(stick_speed[:m], '12h'))
spd = np.array(stick_speed[:m])
ang = np.deg2rad(current_dir[:m])
x_per_ms = 40.0  # days per m/s of eastward flow
segs = [[(t_stick[i], 0.0), (t_stick[i] + spd[i] * np.sin(ang[i]) * x_per_ms,
                             spd[i] * np.cos(ang[i]))] for i in range(m)]
ax_f.add_collection(LineCollection(segs, colors='k', linewidths=0.7))
ax_f.plot([t_stick[0], t_stick[-1]], [0, 0], color='k', linewidth=1.2)
style_time_axis(ax_f, LOW_X, labels_bottom=True)
ax_f.set_ylim(-0.3, 0.3)
ax_f.set_yticks([0])
ax_f.set_ylabel('Current\ndirection', **ylab)
ax_f.yaxis.set_label_coords(-0.07, 0.5)
ax_f.text(0.015, 0.82, 'f)', transform=ax_f.transAxes, **plab)
ax_f.text(0.985, 0.83, '↑N', transform=ax_f.transAxes, ha='right',
          va='center', fontsize=15)

# g) current rose
ax_g = fig.add_axes([0.6894, 0.02775, 0.2494, 0.3005], projection='polar')
ax_g.set_theta_zero_location('N')
ax_g.set_theta_direction(-1)
ax_g.set_facecolor('none')
ax_g.grid(False)
ax_g.spines['polar'].set_visible(False)
ax_g.set_xticks([])
ax_g.set_yticks([])
theta_ring = np.linspace(0, 2 * np.pi, 361)
for r in [2, 4, 6, 8]:
    ax_g.plot(theta_ring, np.full_like(theta_ring, r), color='k',
              linestyle=(0, (3, 3)), linewidth=0.7, zorder=1, clip_on=False)
for a in [0, 0.5 * np.pi, np.pi, 1.5 * np.pi]:
    ax_g.plot([a, a], [0, 8], color='k', linestyle=(0, (3, 3)),
              linewidth=0.7, zorder=1)
theta = np.deg2rad(rose_dirs)
bottom = np.zeros(len(rose_dirs))
for vals, col in zip([rose_0_005, rose_005_01, rose_01_015, rose_015_02,
                      rose_02_025, rose_025_up], rose_colors):
    ax_g.bar(theta, vals, width=2 * np.pi / len(rose_dirs), bottom=bottom,
             color=col, edgecolor='k', linewidth=0.7, zorder=3)
    bottom = bottom + np.array(vals)
ax_g.plot(0, 0, 'o', ms=6, mfc='white', mec='k', mew=0.8, zorder=6)
ax_g.set_ylim(0, 8)
for p in [2, 4, 6, 8]:
    ax_g.text(np.deg2rad(44), 0.89 * p, f'{p}%', ha='center', va='center',
              fontsize=13, zorder=7,
              bbox=dict(facecolor='white', edgecolor='none', pad=2))
ax_g.text(0, 8.7, 'NORTH', ha='center', va='center', fontsize=11)
ax_g.text(np.pi, 8.8, 'SOUTH', ha='center', va='center', fontsize=11)
ax_g.text(0.5 * np.pi, 8.4, 'EAST', ha='left', va='center', fontsize=11)
ax_g.text(1.5 * np.pi, 8.4, 'WEST', ha='right', va='center', fontsize=11)
fig.text(0.648, 0.315, 'g)', fontsize=18, va='center', ha='left')

# colour bar for speed classes
cax = fig.add_axes([0.95, 0.02775, 0.0119, 0.0909])
norm = BoundaryNorm(speed_bounds, len(rose_colors))
cb = fig.colorbar(ScalarMappable(norm=norm, cmap=ListedColormap(rose_colors)),
                  cax=cax, ticks=speed_bounds[:-1], drawedges=True)
cb.ax.set_yticklabels(['0', '0.05', '0.1', '0.15', '0.2', '0.25'])
cb.ax.tick_params(length=0, labelsize=11, pad=2)
cb.outline.set_linewidth(0.8)
cb.dividers.set_linewidth(0.8)

fig.text(0.534, 0.983, 'Date (2011/2012)', ha='center', va='center',
         fontsize=13, fontweight='bold')

fig.savefig('out.png', dpi=100)
